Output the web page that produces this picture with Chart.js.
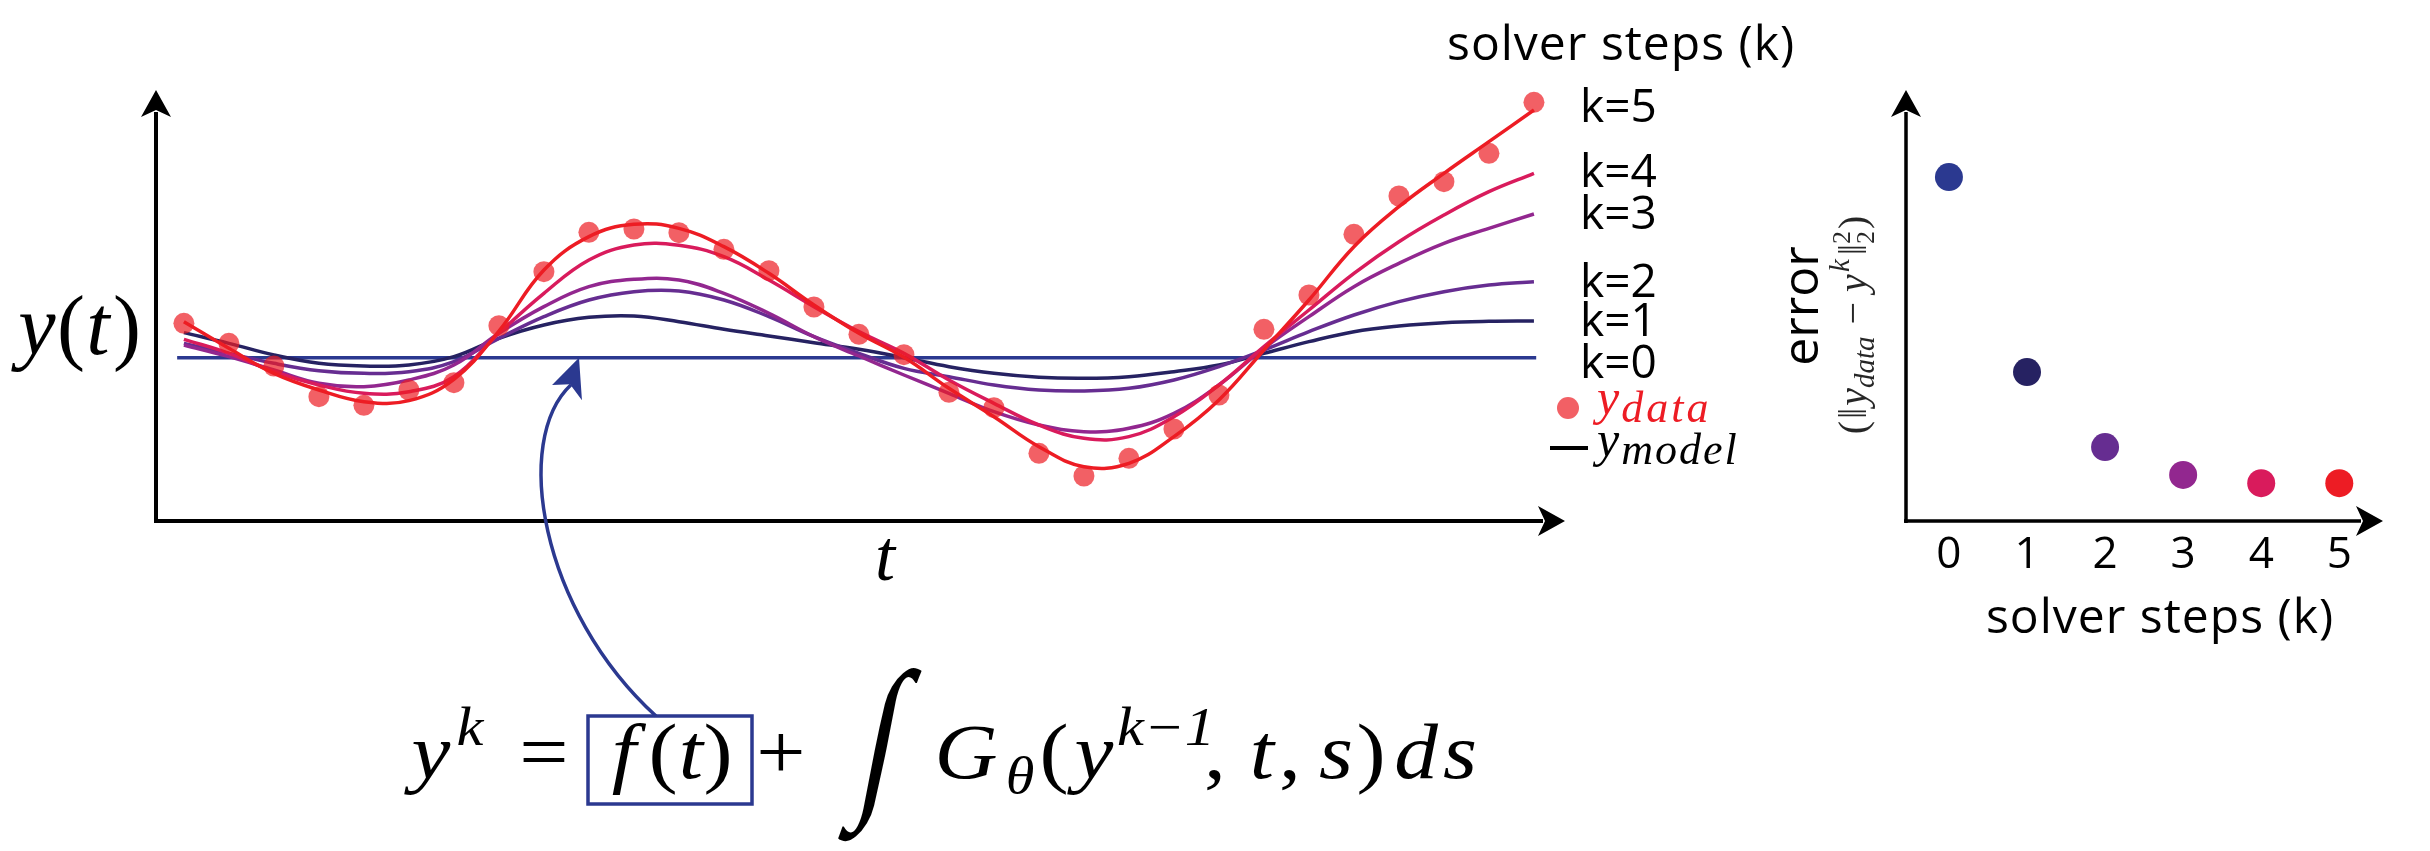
<!DOCTYPE html>
<html>
<head>
<meta charset="utf-8">
<script src="https://cdn.jsdelivr.net/npm/chart.js@4.4.1/dist/chart.umd.min.js"></script>
<style>
  body { margin: 0; background: #fff; width: 2430px; height: 851px; overflow: hidden; }
  #left { position: absolute; left: 0; top: 0; }
  #right { position: absolute; left: 1760px; top: 0; }
</style>
</head>
<body>
<canvas id="left" width="1800" height="851"></canvas>
<canvas id="right" width="670" height="851"></canvas>
<script>
// sample positions along t (one per data point)
const tSteps = [0, 1, 2, 3, 4, 5, 6, 7, 8, 9, 10, 11, 12, 13, 14, 15, 16, 17, 18, 19, 20, 21, 22, 23, 24, 25, 26, 27, 28, 29, 30];
const yData = [10.3, 4.3, -2.5, -11.7, -14.3, -9.7, -7.5, 9.6, 25.8, 37.6, 38.6, 37.5, 32.5, 26.1, 15.2, 7.0, 0.9, -10.4, -15.0, -28.7, -35.5, -30.2, -21.4, -11.2, 8.5, 18.8, 37.0, 48.5, 52.8, 61.3, 76.6];

// model after k solver steps
const yK1 = [7.5, 4.3, 0.8, -1.7, -2.5, -2.2, 0.3, 5.8, 9.8, 12.1, 12.5, 10.8, 8.5, 6.5, 4.5, 2.5, 0, -2.7, -4.7, -5.9, -6.2, -5.7, -4.2, -2.2, 1.3, 4.8, 7.8, 9.5, 10.5, 10.9, 11];
const yK2 = [4.3, 1.3, -1.7, -3.9, -4.7, -4.2, -1.2, 5.8, 12.3, 17.3, 19.8, 20, 17.3, 12.3, 6.3, 1.3, -3.2, -5.7, -8.2, -9.7, -10, -9.2, -6.7, -2.7, 2.3, 7.8, 12.8, 16.8, 19.8, 21.8, 22.8];
const yK3 = [3.8, 0.3, -3.7, -7.7, -8.7, -6.7, -2.2, 7.3, 15.3, 21.3, 23.5, 23.3, 19.3, 13.3, 6.3, 0.5, -5.2, -10.7, -16.2, -20.2, -22.2, -21.2, -16.7, -8.2, 2.8, 12.3, 21.3, 28.3, 34.3, 38.8, 43.1];
const yK4 = [5.5, 1.3, -4.2, -8.2, -10.7, -10.2, -5.7, 7.3, 19.3, 29.3, 33.8, 33.7, 30.3, 23.3, 15.3, 7.8, 1.3, -6.7, -13.7, -20.2, -24.2, -23.7, -17.7, -8.2, 3.3, 14.3, 25.3, 34.8, 42.8, 49.8, 55.3];
const yK5 = [10.8, 2.8, -4.7, -9.7, -13.2, -12.9, -6.5, 8, 26.3, 36.3, 40, 38.8, 33.3, 25.3, 15.8, 7.3, 0.1, -9.2, -17.7, -26.7, -32.7, -31.7, -23.7, -12.7, 2.3, 17.3, 33.3, 45.3, 55.3, 64.8, 74.3];
// k = 0 is the flat initial guess f(t)
const k0Span = [-0.15, 30.05];
const yK0 = [0, 0];

const stepLabels = ['k=0', 'k=1', 'k=2', 'k=3', 'k=4', 'k=5'];
const stepColors = ['#2B3990', '#262262', '#662D91', '#92278F', '#D91B5C', '#ED1C24'];

// right panel: error per solver step
const solverSteps = [0, 1, 2, 3, 4, 5];
const errorValues = [1.0, 0.433, 0.215, 0.134, 0.11, 0.11];
const stepTicks = ['0', '1', '2', '3', '4', '5'];

const SANS = '"Open Sans", sans-serif';
const MATH = '"Liberation Serif", "DejaVu Serif", serif';
const DOT = 'rgba(237,28,36,0.7)';

function pts(xs, ys) {
  return xs.map((x, i) => ({ x: x, y: ys[i] }));
}

function arrowHead(ctx, x, y, dir) {
  ctx.save();
  ctx.translate(x, y);
  if (dir === 'right') ctx.rotate(Math.PI / 2);
  ctx.beginPath();
  ctx.moveTo(0, 0);
  ctx.lineTo(15, 27);
  ctx.lineTo(0, 20);
  ctx.lineTo(-15, 27);
  ctx.closePath();
  ctx.fill();
  ctx.restore();
}

function txt(ctx, s, x, y, font, color, align, spacing) {
  ctx.font = font;
  ctx.fillStyle = color || '#000';
  ctx.textAlign = align || 'left';
  ctx.textBaseline = 'alphabetic';
  ctx.letterSpacing = spacing || '0px';
  ctx.fillText(s, x, y);
  const w = ctx.measureText(s).width;
  ctx.letterSpacing = '0px';
  return x + w;
}

// formula glyphs placed at the centres they have in the figure
const formulaGlyphs = [
  ['y', 431, 0, 'italic 78px'], ['k', 470, -33, 'italic 54px'], ['=', 544, 0, '78px'],
  ['f', 624, 0, 'italic 78px'], ['(', 663, 0, '78px'], ['t', 691, 0, 'italic 78px'], [')', 718, 0, '78px'],
  ['+', 781, 0, '78px'],
  ['G', 966, 0, 'italic 78px'], ['\u03B8', 1020, 15, 'italic 52px'],
  ['(', 1054, 0, '78px'], ['y', 1094, 0, 'italic 78px'], ['k\u22121', 1166, -33, 'italic 54px'],
  [',', 1215, 0, '78px'], ['t', 1262, 0, 'italic 78px'], [',', 1290, 0, '78px'],
  ['s', 1336, 0, 'italic 78px'], [')', 1371, 0, '78px'], ['d', 1416, 0, 'italic 78px'], ['s', 1460, 0, 'italic 78px']
];

const leftDecor = {
  id: 'leftDecor',
  beforeDatasetsDraw(chart) {
    const ctx = chart.ctx;
    const a = chart.chartArea;
    ctx.save();
    ctx.strokeStyle = '#000';
    ctx.fillStyle = '#000';
    ctx.lineWidth = 4;
    ctx.beginPath();
    ctx.moveTo(a.left, a.bottom + 2);
    ctx.lineTo(a.left, a.top + 22);
    ctx.moveTo(a.left - 2, a.bottom);
    ctx.lineTo(a.right - 22, a.bottom);
    ctx.stroke();
    arrowHead(ctx, a.left, a.top, 'up');
    arrowHead(ctx, a.right, a.bottom, 'right');
    ctx.restore();
  },
  afterDatasetsDraw(chart) {
    const ctx = chart.ctx;
    const xs = chart.scales.x, ys = chart.scales.y;
    ctx.save();

    // axis names
    txt(ctx, 'y', 37, 354, 'italic 84px ' + MATH, '#000', 'center');
    txt(ctx, '(', 71, 354, '84px ' + MATH, '#000', 'center');
    txt(ctx, 't', 98, 354, 'italic 84px ' + MATH, '#000', 'center');
    txt(ctx, ')', 127, 354, '84px ' + MATH, '#000', 'center');
    txt(ctx, 't', 885, 580, 'italic 72px ' + MATH, '#000', 'center');

    // legend block
    txt(ctx, 'solver steps (k)', 1447, 60, '48px ' + SANS, '#000', 'left', '1px');
    const ends = [yK0[1], yK1[30], yK2[30], yK3[30], yK4[30], yK5[30]];
    const nudge = [20, 15, 15, 15, 14, 12];
    stepLabels.forEach((s, i) => {
      txt(ctx, s, 1580, ys.getPixelForValue(ends[i]) + nudge[i], '46px ' + SANS);
    });
    ctx.fillStyle = DOT;
    ctx.beginPath();
    ctx.arc(1568, 408, 11, 0, Math.PI * 2);
    ctx.fill();
    let x = txt(ctx, 'y', 1597, 414, 'italic 50px ' + MATH, '#ED1C24');
    txt(ctx, 'data', x + 2, 422, 'italic 44px ' + MATH, '#ED1C24', 'left', '3px');
    ctx.fillStyle = '#000';
    ctx.fillRect(1550, 446, 38, 4);
    x = txt(ctx, 'y', 1597, 456, 'italic 50px ' + MATH);
    txt(ctx, 'model', x + 2, 464, 'italic 44px ' + MATH, '#000', 'left', '2px');

    // blue pointer from f(t) up to the k=0 line
    const tipX = xs.getPixelForValue(8.78), tipY = ys.getPixelForValue(0);
    ctx.strokeStyle = '#2B3990';
    ctx.fillStyle = '#2B3990';
    ctx.lineWidth = 3.5;
    ctx.beginPath();
    ctx.moveTo(656, 716);
    ctx.bezierCurveTo(540, 610, 512, 440, tipX - 8, tipY + 27);
    ctx.stroke();
    ctx.save();
    ctx.translate(tipX, tipY);
    ctx.rotate(0.29);
    ctx.beginPath();
    ctx.moveTo(0, 0);
    ctx.lineTo(15, 40);
    ctx.lineTo(-1, 28);
    ctx.lineTo(-18, 34);
    ctx.closePath();
    ctx.fill();
    ctx.restore();

    // formula  y^k = f(t) + ∫ Gθ(y^{k-1}, t, s) ds
    const B = 778;
    ctx.strokeStyle = '#2B3990';
    ctx.lineWidth = 3.5;
    ctx.strokeRect(588, 716, 164, 88);
    formulaGlyphs.forEach(g => {
      ctx.save();
      ctx.translate(g[1], B + g[2]);
      ctx.scale(1.12, 1);
      txt(ctx, g[0], 0, 0, g[3] + ' ' + MATH, '#000', 'center');
      ctx.restore();
    });
    ctx.save();
    ctx.translate(872, 794);
    ctx.transform(1, 0, -0.2, 1, 0, 0);
    ctx.scale(1.1, 1.47);
    txt(ctx, '\u222B', 0, 0, '120px ' + MATH, '#000', 'center');
    ctx.restore();
    ctx.restore();
  }
};

const curveSets = [yK1, yK2, yK3, yK4, yK5];
const leftData = [{
  label: 'y_data',
  data: pts(tSteps, yData),
  showLine: false,
  pointRadius: 10.5,
  pointBackgroundColor: DOT,
  pointBorderWidth: 0,
  order: 0,
  clip: false
}, {
  label: stepLabels[0],
  data: pts(k0Span, yK0),
  borderColor: stepColors[0],
  borderWidth: 3.5,
  pointRadius: 0,
  order: 6,
  clip: false
}];
curveSets.forEach((vals, i) => {
  leftData.push({
    label: stepLabels[i + 1],
    data: pts(tSteps, vals),
    borderColor: stepColors[i + 1],
    borderWidth: 3.5,
    pointRadius: 0,
    tension: 0.4,
    order: 5 - i,
    clip: false
  });
});

new Chart(document.getElementById('left'), {
  type: 'line',
  data: { datasets: leftData },
  options: {
    responsive: false,
    animation: false,
    devicePixelRatio: 1,
    layout: { padding: { left: 156, right: 235, top: 90, bottom: 330 } },
    plugins: { legend: { display: false }, tooltip: { enabled: false } },
    scales: {
      x: { type: 'linear', min: -0.62, max: 30.69, display: false },
      y: { type: 'linear', min: -49, max: 80.3, display: false }
    }
  },
  plugins: [leftDecor]
});

const rightDecor = {
  id: 'rightDecor',
  beforeDatasetsDraw(chart) {
    const ctx = chart.ctx;
    const a = chart.chartArea;
    const xs = chart.scales.x;
    ctx.save();
    ctx.strokeStyle = '#000';
    ctx.fillStyle = '#000';
    ctx.lineWidth = 3.5;
    ctx.beginPath();
    ctx.moveTo(a.left, a.bottom + 2);
    ctx.lineTo(a.left, a.top + 22);
    ctx.moveTo(a.left - 2, a.bottom);
    ctx.lineTo(a.right - 22, a.bottom);
    ctx.stroke();
    arrowHead(ctx, a.left, a.top, 'up');
    arrowHead(ctx, a.right, a.bottom, 'right');

    stepTicks.forEach((s, i) => {
      txt(ctx, s, xs.getPixelForValue(solverSteps[i]), 568, '44px ' + SANS, '#000', 'center');
    });
    txt(ctx, 'solver steps (k)', 400, 633, '48px ' + SANS, '#000', 'center', '1px');

    // rotated y titles
    ctx.save();
    ctx.translate(58, 306);
    ctx.rotate(-Math.PI / 2);
    txt(ctx, 'error', 0, 0, '50px ' + SANS, '#000', 'center');
    ctx.restore();

    ctx.save();
    ctx.translate(106, 325);
    ctx.rotate(-Math.PI / 2);
    const parts = [
      ['(', '40px ' + MATH, 0, 2], ['\u2016', '40px ' + MATH, 0, 2],
      ['y', 'italic 40px ' + MATH, 0, 0], ['data', 'italic 29px ' + MATH, 8, 2],
      [' \u2212 ', '40px ' + MATH, 0, 0], ['y', 'italic 40px ' + MATH, 0, 2],
      ['k', 'italic 29px ' + MATH, -17, 4], ['\u2016', '40px ' + MATH, 0, 0],
      ['2', '26px ' + MATH, -16, -15], ['2', '26px ' + MATH, 8, 2], [')', '40px ' + MATH, 0, 0]
    ];
    let total = 0;
    parts.forEach(p => {
      ctx.font = p[1];
      if (!(p[0] === '2' && p[2] < 0)) total += ctx.measureText(p[0]).width + p[3];
    });
    let x = -total / 2;
    ctx.globalAlpha = 0.85;
    parts.forEach(p => {
      const w = txt(ctx, p[0], x, p[2], p[1], '#000') - x;
      x += (p[0] === '2' && p[2] < 0) ? 0 : w + p[3];
    });
    ctx.restore();
    ctx.restore();
  }
};

new Chart(document.getElementById('right'), {
  type: 'scatter',
  data: {
    datasets: [{
      label: 'error',
      data: pts(solverSteps, errorValues),
      pointRadius: 14,
      pointBackgroundColor: stepColors,
      pointBorderWidth: 0,
      clip: false
    }]
  },
  options: {
    responsive: false,
    animation: false,
    devicePixelRatio: 1,
    layout: { padding: { left: 146, right: 47, top: 90, bottom: 330 } },
    plugins: { legend: { display: false }, tooltip: { enabled: false } },
    scales: {
      x: { type: 'linear', min: -0.55, max: 5.56, display: false },
      y: { type: 'linear', min: 0, max: 1.253, display: false }
    }
  },
  plugins: [rightDecor]
});
</script>
</body>
</html>
